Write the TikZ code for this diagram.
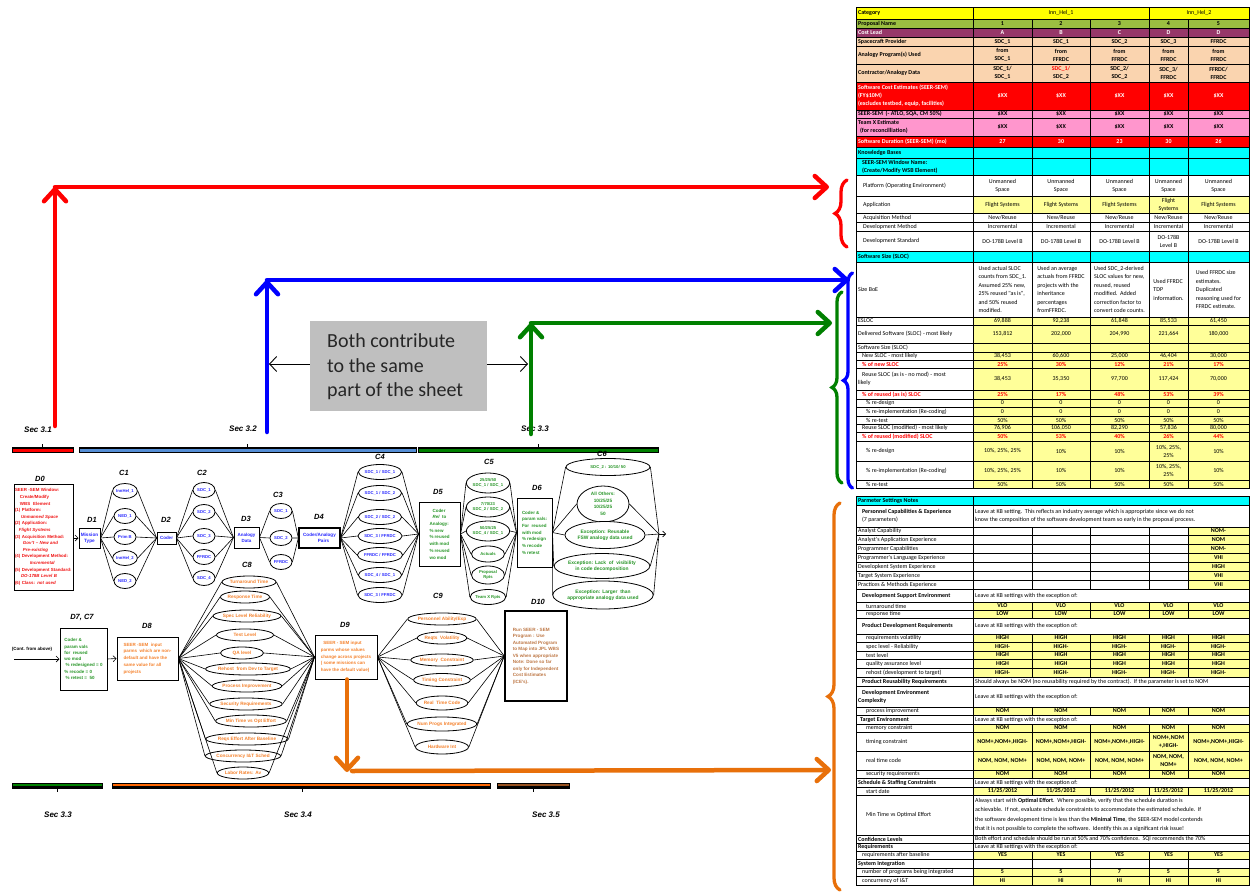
\documentclass[tikz,border=0pt]{standalone}
\usepackage{fontspec}
\setmainfont{Liberation Sans}
\newfontfamily\calib{Carlito}
\usetikzlibrary{shapes.geometric,arrows.meta,decorations.pathreplacing}

% sheet colours
\definecolor{cyyel}{RGB}{255,255,0}
\definecolor{cgreen}{RGB}{155,190,65}
\definecolor{cpurp}{RGB}{150,55,105}
\definecolor{cpeach}{RGB}{250,212,175}
\definecolor{cred}{RGB}{255,0,0}
\definecolor{cpink}{RGB}{255,150,205}
\definecolor{ccyan}{RGB}{0,255,255}
\definecolor{cly}{RGB}{255,255,153}
% flow chart text colours
\definecolor{fblue}{RGB}{40,40,255}
\definecolor{fgreen}{RGB}{40,150,40}
\definecolor{forange}{RGB}{245,130,45}
\definecolor{fbrown}{RGB}{190,120,70}
\definecolor{fred}{RGB}{240,20,20}
% connector and bar colours
\definecolor{arred}{RGB}{255,0,0}
\definecolor{arblue}{RGB}{0,0,255}
\definecolor{argreen}{RGB}{0,128,0}
\definecolor{arorange}{RGB}{232,112,10}
\definecolor{barblue}{RGB}{85,142,213}
\definecolor{barorange}{RGB}{255,102,0}
\definecolor{barbrown}{RGB}{150,80,30}
\definecolor{boxgray}{RGB}{191,191,191}

\tikzset{
  cell/.style={draw=black, line width=0.5pt},
  tabtxt/.style={font=\calib\fontsize{6}{8}\selectfont},
  tabbold/.style={font=\calib\bfseries\fontsize{6}{8}\selectfont},
  labtxt/.style={tabtxt, anchor=west, inner sep=0.4pt, align=left},
  valtxt/.style={tabtxt, inner sep=0pt, align=center},
  fl/.style={draw=black, line width=0.6pt},
  ellb/.style={ellipse, draw=black, line width=0.8pt, fill=white, inner sep=0pt,
               font=\fontsize{4.2}{5.4}\selectfont\bfseries, align=center},
  ellc/.style={ellb, font=\fontsize{4.7}{5.6}\selectfont\bfseries},
  elld/.style={ellb, font=\fontsize{4.9}{6.2}\selectfont\bfseries},
  dbox/.style={rectangle, draw=black, line width=1pt, fill=white, inner sep=1pt,
               font=\fontsize{4.5}{6.7}\selectfont\bfseries},
  dlab/.style={font=\fontsize{7.5}{9}\selectfont\bfseries\itshape, inner sep=0pt},
  seclab/.style={font=\fontsize{8}{9}\selectfont\bfseries\itshape, inner sep=0pt},
  bigarrow/.style={line width=4.5pt, line cap=round,
                   -{Straight Barb[length=12pt,width=22pt,round]}},
  bigbrace/.style={line width=3.3pt, line cap=round, decorate},
  smallarrow/.style={draw=black, line width=0.6pt, -{Straight Barb[length=3pt,width=6pt]}},
}

% label cell of a sheet row
\newcommand{\Lab}[5][]{%
  \pgfmathsetmacro\ymid{(#2+#3)/2}%
  \draw[cell, fill=#4] (856,#2) rectangle (973,#3);
  \node[labtxt,#1] at (857.5,\ymid) {#5};
}
% five value cells of a sheet row
\newcommand{\Vals}[9][]{%
  \pgfmathsetmacro\ymid{(#2+#3)/2}%
  \draw[cell, fill=#4] (973,#2) rectangle (1032,#3);
  \draw[cell, fill=#4] (1032,#2) rectangle (1090,#3);
  \draw[cell, fill=#4] (1090,#2) rectangle (1149,#3);
  \draw[cell, fill=#4] (1149,#2) rectangle (1188,#3);
  \draw[cell, fill=#4] (1188,#2) rectangle (1249,#3);
  \node[valtxt,#1] at (1002.5,\ymid) {#5};
  \node[valtxt,#1] at (1061,\ymid) {#6};
  \node[valtxt,#1] at (1119.5,\ymid) {#7};
  \node[valtxt,#1] at (1168.5,\ymid) {#8};
  \node[valtxt,#1] at (1218.5,\ymid) {#9};
}
% one merged cell across the five value columns
\newcommand{\Span}[5][]{%
  \pgfmathsetmacro\ymid{(#2+#3)/2}%
  \draw[cell, fill=#4] (973,#2) rectangle (1249,#3);
  \node[labtxt,#1] at (974.5,\ymid) {#5};
}
% highlighted last column
\newcommand{\Cfive}[3]{%
  \pgfmathsetmacro\ymid{(#1+#2)/2}%
  \draw[cell, fill=cly] (1188,#1) rectangle (1249,#2);
  \node[valtxt,tabbold] at (1218.5,\ymid) {#3};
}
% section bars above and below the flow chart
\newcommand{\BarTop}[4]{%
  \draw[black, line width=0.5pt, fill=#4] (#1,447.5) rectangle (#2,452.5);
  \draw[black, line width=1.8pt] (#1,448.2) -- (#2,448.2);
  \draw[black, line width=0.9pt] (#3,448) -- (#3,443.5);
}
\newcommand{\BarBot}[4]{%
  \draw[black, line width=0.5pt, fill=#4] (#1,783) rectangle (#2,788);
  \draw[black, line width=1.8pt] (#1,787.3) -- (#2,787.3);
  \draw[black, line width=0.9pt] (#3,787.5) -- (#3,792);
}

\begin{document}
\begin{tikzpicture}[x=1pt,y=-1pt]
\useasboundingbox (0,0) rectangle (1250,893);
\fill[white] (0,0) rectangle (1250,893);

%================ upper sheet ================
\Lab[tabbold]{7}{19}{cyyel}{Category}
\draw[cell, fill=cyyel] (973,7) rectangle (1149,19);
\draw[cell, fill=cyyel] (1149,7) rectangle (1249,19);
\node[valtxt] (ih1) at (1061,13) {Inn\_Hel\_1};
\node[valtxt] (ih2) at (1199,13) {Inn\_Hel\_2};
\Lab[tabbold]{19}{28}{cgreen}{Proposal Name}
\Vals[tabbold]{19}{28}{cgreen}{1}{2}{3}{4}{5}
\Lab[tabbold,text=white]{28}{37}{cpurp}{Cost Lead}
\Vals[tabbold,text=white]{28}{37}{cpurp}{A}{B}{C}{D}{D}
\Lab[tabbold]{37}{46}{cpeach}{Spacecraft Provider}
\Vals[tabbold]{37}{46}{cpeach}{SDC\_1}{SDC\_1}{SDC\_2}{SDC\_3}{FFRDC}
\Lab[tabbold]{46}{64}{cpeach}{Analogy Program(s) Used}
\Vals[tabbold]{46}{64}{cpeach}{from\\SDC\_1}{from\\FFRDC}{from\\FFRDC}{from\\FFRDC}{from\\FFRDC}
\Lab[tabbold]{64}{82}{cpeach}{Contractor/Analogy Data}
\Vals[tabbold]{64}{82}{cpeach}{SDC\_1/\\SDC\_1}{\textcolor{red}{SDC\_1/}\\SDC\_2}{SDC\_2/\\SDC\_2}{SDC\_3/\\FFRDC}{FFRDC/\\FFRDC}
\Lab[tabbold,text=white]{82}{110}{cred}{Software Cost Estimates (SEER-SEM)\\(FY\$10M)\\(excludes testbed, equip, facilities)}
\Vals[tabbold,text=white]{82}{110}{cred}{\$XX}{\$XX}{\$XX}{\$XX}{\$XX}
\Lab[tabbold]{110}{118}{cpink}{SEER-SEM~~(- ATLO, SQA, CM 50\%)}
\Vals[tabbold]{110}{118}{cpink}{\$XX}{\$XX}{\$XX}{\$XX}{\$XX}
\Lab[tabbold]{118}{136}{cpink}{Team X Estimate\\\hspace*{2pt}(for reconcilliation)}
\Vals[tabbold]{118}{136}{cpink}{\$XX}{\$XX}{\$XX}{\$XX}{\$XX}
\Lab[tabbold,text=white]{136}{147}{cred}{Software Duration (SEER-SEM) (mo)}
\Vals[tabbold,text=white]{136}{147}{cred}{27}{30}{23}{30}{26}
\Lab[tabbold]{147}{158}{ccyan}{Knowledge Bases}
\Vals{147}{158}{ccyan}{}{}{}{}{}
\Lab[tabbold]{158}{175}{ccyan}{\hspace*{4pt}SEER-SEM Window Name:\\\hspace*{4pt}(Create/Modify WSB Element)}
\Vals{158}{175}{ccyan}{}{}{}{}{}
\Lab{175}{196}{white}{\hspace*{5pt}Platform (Operating Environment)}
\Vals{175}{196}{white}{Unmanned\\Space}{Unmanned\\Space}{Unmanned\\Space}{Unmanned\\Space}{Unmanned\\Space}
\Lab{196}{213}{white}{\hspace*{5pt}Application}
\Vals{196}{213}{cly}{Flight Systems}{Flight Systems}{Flight Systems}{Flight\\Systems}{Flight Systems}
\Lab{213}{222}{white}{\hspace*{5pt}Acquisition Method}
\Vals{213}{222}{white}{New/Reuse}{New/Reuse}{New/Reuse}{New/Reuse}{New/Reuse}
\Lab{222}{231}{white}{\hspace*{5pt}Development Method}
\Vals{222}{231}{white}{Incremental}{Incremental}{Incremental}{Incremental}{Incremental}
\Lab{231}{251}{white}{\hspace*{5pt}Development Standard}
\Vals{231}{251}{white}{DO-178B Level B}{DO-178B Level B}{DO-178B Level B}{DO-178B\\Level B}{DO-178B Level B}
\Lab[tabbold]{251}{262}{ccyan}{Software Size (SLOC)}
\Vals{251}{262}{ccyan}{}{}{}{}{}
\Lab{262}{317}{white}{Size BoE}
\Vals[align=left,font=\calib\fontsize{6}{8.5}\selectfont]{262}{317}{white}%
  {Used actual SLOC\\counts from SDC\_1.\\Assumed 25\% new,\\25\% reused "as is",\\and 50\% reused\\modified.}%
  {Used an average\\actuals from FFRDC\\projects with the\\inheritance\\percentages\\fromFFRDC.}%
  {Used SDC\_2-derived\\SLOC values for new,\\reused, reused\\modified.~~Added\\correction factor to\\convert code counts.}%
  {Used FFRDC\\TDP\\information.}%
  {Used FFRDC size\\estimates.\\Duplicated\\reasoning used for\\FFRDC estimate.}
\Lab{317}{325}{white}{ESLOC}
\Vals{317}{325}{cly}{69,888}{92,238}{61,848}{85,533}{61,450}
\Lab{325}{343}{white}{Delivered Software (SLOC) - most likely}
\Vals{325}{343}{cly}{153,812}{202,000}{204,990}{221,664}{180,000}
\Lab{343}{352}{white}{Software Size (SLOC)}
\Vals{343}{352}{cly}{}{}{}{}{}
\Lab{352}{360}{white}{\hspace*{4pt}New SLOC - most likely}
\Vals{352}{360}{cly}{38,453}{60,600}{25,000}{46,404}{30,000}
\Lab[tabbold,text=red]{360}{368}{white}{\hspace*{4pt}\% of new SLOC}
\Vals[tabbold,text=red]{360}{368}{cly}{25\%}{30\%}{12\%}{21\%}{17\%}
\Lab{368}{390}{white}{\hspace*{4pt}Reuse SLOC (as is - no mod) - most\\likely}
\Vals{368}{390}{cly}{38,453}{35,350}{97,700}{117,424}{70,000}
\Lab[tabbold,text=red]{390}{399}{white}{\hspace*{4pt}\% of reused (as is) SLOC}
\Vals[tabbold,text=red]{390}{399}{cly}{25\%}{17\%}{48\%}{53\%}{39\%}
\Lab{399}{407}{white}{\hspace*{8pt}\% re-design}
\Vals{399}{407}{cly}{0}{0}{0}{0}{0}
\Lab{407}{416}{white}{\hspace*{8pt}\% re-implementation (Re-coding)}
\Vals{407}{416}{cly}{0}{0}{0}{0}{0}
\Lab{416}{424}{white}{\hspace*{8pt}\% re-test}
\Vals{416}{424}{cly}{50\%}{50\%}{50\%}{50\%}{50\%}
\Lab{424}{432}{white}{\hspace*{4pt}Reuse SLOC (modified) - most likely}
\Vals{424}{432}{cly}{76,906}{106,050}{82,290}{57,836}{80,000}
\Lab[tabbold,text=red]{432}{441}{white}{\hspace*{4pt}\% of reused (modified) SLOC}
\Vals[tabbold,text=red]{432}{441}{cly}{50\%}{53\%}{40\%}{26\%}{44\%}
\Lab{441}{461}{white}{\hspace*{8pt}\% re-design}
\Vals{441}{461}{cly}{10\%, 25\%, 25\%}{10\%}{10\%}{10\%, 25\%,\\25\%}{10\%}
\Lab{461}{480}{white}{\hspace*{8pt}\% re-implementation (Re-coding)}
\Vals{461}{480}{cly}{10\%, 25\%, 25\%}{10\%}{10\%}{10\%, 25\%,\\25\%}{10\%}
\Lab{480}{488}{white}{\hspace*{8pt}\% re-test}
\Vals{480}{488}{cly}{50\%}{50\%}{50\%}{50\%}{50\%}

%================ lower sheet ================
\Lab[tabbold]{496}{505}{ccyan}{Parmeter Settings Notes}
\Span{496}{505}{ccyan}{}
\Lab{505}{527}{white}{\hspace*{4pt}\textbf{Personnel Capabilities \& Experience}\\\hspace*{4pt}(7 parameters)}
\Span[font=\calib\fontsize{6}{8.4}\selectfont]{505}{527}{white}{Leave at KB setting.~~This reflects an industry average which is appropriate since we do not\\know the composition of the software development team so early in the proposal process.}
\Lab{527}{535}{white}{Analyst Capability}
\Vals{527}{535}{white}{}{}{}{}{}
\Cfive{527}{535}{NOM-}
\Lab{535}{544}{white}{Analyst's Application Experience}
\Vals{535}{544}{white}{}{}{}{}{}
\Cfive{535}{544}{NOM}
\Lab{544}{553}{white}{Programmer Capabilities}
\Vals{544}{553}{white}{}{}{}{}{}
\Cfive{544}{553}{NOM-}
\Lab{553}{562}{white}{Programmer's Language Experience}
\Vals{553}{562}{white}{}{}{}{}{}
\Cfive{553}{562}{VHI}
\Lab{562}{571}{white}{Developkent System Experience}
\Vals{562}{571}{white}{}{}{}{}{}
\Cfive{562}{571}{HIGH}
\Lab{571}{580}{white}{Target System Experience}
\Vals{571}{580}{white}{}{}{}{}{}
\Cfive{571}{580}{VHI}
\Lab{580}{589}{white}{Practices \& Methods Experience}
\Vals{580}{589}{white}{}{}{}{}{}
\Cfive{580}{589}{VHI}
\Lab[tabbold]{589}{602}{white}{\hspace*{4pt}Development Support Environment}
\Span{589}{602}{white}{Leave at KB settings with the exception of:}
\Lab{602}{610}{white}{\hspace*{8pt}turnaround time}
\Vals[tabbold]{602}{610}{cly}{VLO}{VLO}{VLO}{VLO}{VLO}
\Lab{610}{618}{white}{\hspace*{8pt}response time}
\Vals[tabbold]{610}{618}{cly}{LOW}{LOW}{LOW}{LOW}{LOW}
\Lab[tabbold]{618}{634}{white}{\hspace*{4pt}Product Development Requirements}
\Span{618}{634}{white}{Leave at KB settings with the exception of:}
\Lab{634}{642}{white}{\hspace*{8pt}requirements volatility}
\Vals[tabbold]{634}{642}{cly}{HIGH}{HIGH}{HIGH}{HIGH}{HIGH}
\Lab{642}{651}{white}{\hspace*{8pt}spec level - Reliability}
\Vals[tabbold]{642}{651}{cly}{HIGH-}{HIGH-}{HIGH-}{HIGH-}{HIGH-}
\Lab{651}{659}{white}{\hspace*{8pt}test level}
\Vals[tabbold]{651}{659}{cly}{HIGH}{HIGH}{HIGH}{HIGH}{HIGH}
\Lab{659}{668}{white}{\hspace*{8pt}quality assurance level}
\Vals[tabbold]{659}{668}{cly}{HIGH}{HIGH}{HIGH}{HIGH}{HIGH}
\Lab{668}{677}{white}{\hspace*{8pt}rehost (development to target)}
\Vals[tabbold]{668}{677}{cly}{HIGH-}{HIGH-}{HIGH-}{HIGH-}{HIGH-}
\Lab[tabbold]{677}{686}{white}{\hspace*{4pt}Product Reusability Requirements}
\Span{677}{686}{white}{Should always be NOM (no reusability required by the contract).~~If the parameter is set to NOM}
\Lab[tabbold]{686}{707}{white}{\hspace*{4pt}Development Environment\\Complexity}
\Span{686}{707}{white}{Leave at KB settings with the exception of:}
\Lab{707}{715}{white}{\hspace*{8pt}process improvement}
\Vals[tabbold]{707}{715}{cly}{NOM}{NOM}{NOM}{NOM}{NOM}
\Lab[tabbold]{715}{724}{white}{\hspace*{2pt}Target Environment}
\Span{715}{724}{white}{Leave at KB settings with the exception of:}
\Lab{724}{732}{white}{\hspace*{8pt}memory constraint}
\Vals[tabbold]{724}{732}{cly}{NOM}{NOM}{NOM}{NOM}{NOM}
\Lab{732}{751}{white}{\hspace*{8pt}timing constraint}
\Vals[tabbold]{732}{751}{cly}{NOM+,NOM+,HIGH-}{NOM+,NOM+,HIGH-}{NOM+,NOM+,HIGH-}{NOM+,NOM\\+,HIGH-}{NOM+,NOM+,HIGH-}
\Lab{751}{770}{white}{\hspace*{8pt}real time code}
\Vals[tabbold]{751}{770}{cly}{NOM, NOM, NOM+}{NOM, NOM, NOM+}{NOM, NOM, NOM+}{NOM, NOM,\\NOM+}{NOM, NOM, NOM+}
\Lab{770}{778}{white}{\hspace*{8pt}security requirements}
\Vals[tabbold]{770}{778}{cly}{NOM}{NOM}{NOM}{NOM}{NOM}
\Lab[tabbold]{778}{787}{white}{Schedule \& Staffing Constraints}
\Span{778}{787}{white}{Leave at KB settings with the exception of:}
\Lab{787}{795}{white}{\hspace*{8pt}start date}
\Vals[tabbold]{787}{795}{cly}{11/25/2012}{11/25/2012}{11/25/2012}{11/25/2012}{11/25/2012}
\Lab{795}{835}{white}{\hspace*{8pt}Min Time vs Optimal Effort}
\Span[font=\calib\fontsize{6}{9.3}\selectfont]{795}{835}{white}{Always start with \textbf{Optimal Effort}.~~Where possible, verify that the schedule duration is\\achievable.~~If not, evaluate schedule constraints to accommodate the estimated schedule.~~If\\the software development time is less than the \textbf{Minimal Time}, the SEER-SEM model contends\\that it is not possible to complete the software.~~Identify this as a significant risk issue!}
\Lab[tabbold]{835}{843}{white}{Confidence Levels}
\Span{835}{843}{white}{Both effort and schedule should be run at 50\% and 70\% confidence.~~SQI recommends the 70\%}
\Lab[tabbold]{843}{851}{white}{Requirements}
\Span{843}{851}{white}{Leave at KB settings with the exception of:}
\Lab{851}{859}{white}{\hspace*{4pt}requirements after baseline}
\Vals[tabbold]{851}{859}{cly}{YES}{YES}{YES}{YES}{YES}
\Lab[tabbold]{859}{868}{white}{System Integration}
\Vals{859}{868}{white}{}{}{}{}{}
\Lab{868}{876}{white}{\hspace*{4pt}number of programs being integrated}
\Vals[tabbold]{868}{876}{cly}{5}{5}{7}{5}{5}
\Lab{876}{885}{white}{\hspace*{4pt}concurrency of I\&T}
\Vals[tabbold]{876}{885}{cly}{Hi}{Hi}{Hi}{Hi}{Hi}

%================ section bars and labels ================
\BarTop{12}{73}{42}{arred}
\BarTop{79}{416}{247}{barblue}
\BarTop{418}{658}{538}{argreen}
\BarBot{12}{102}{57}{argreen}
\BarBot{112}{490}{302}{barorange}
\BarBot{497}{569}{533}{barbrown}
\node[seclab] (s31) at (38,430) {Sec 3.1};
\node[seclab] (s32) at (243,429) {Sec 3.2};
\node[seclab] (s33) at (535,429) {Sec 3.3};
\node[seclab] (s33b) at (58,815) {Sec 3.3};
\node[seclab] (s34) at (298,815) {Sec 3.4};
\node[seclab] (s35) at (546,815) {Sec 3.5};

%================ flow chart: upper chain ================
\node[dlab] (l0) at (40,479) {D0};
\node[dlab] (l1) at (92,520) {D1};
\node[dlab] (lc1) at (124,473) {C1};
\node[dlab] (l2) at (166,520) {D2};
\node[dlab] (lc2) at (202,473) {C2};
\node[dlab] (l3) at (246,519) {D3};
\node[dlab] (lc3) at (278,495) {C3};
\node[dlab] (l4) at (319,517) {D4};
\node[dlab] (lc4) at (380,457) {C4};
\node[dlab] (l5) at (438,492) {D5};
\node[dlab] (lc5) at (489,462) {C5};
\node[dlab] (l6) at (537,488) {D6};
\node[dlab] (lc6) at (602,454) {C6};

\node[dbox, text=fred, minimum width=59, minimum height=106, text width=57, inner sep=0.8pt, align=left, font=\fontsize{4.4}{6.6}\selectfont\bfseries] (d0) at (43.5,537)
 {SEER -SEM Window:\\\hspace*{5pt}Create/Modify\\\hspace*{5pt}WBS~ Element\\(1) Platform:\\\hspace*{6pt}\textit{Unmanned Space}\\(2) Application:\\\hspace*{4pt}\textit{Flight Systems}\\(3) Acquisition Method:\\\hspace*{8pt}\textit{Gov't – New and}\\\hspace*{8pt}\textit{Pre-existing}\\(4) Development Method:\\\hspace*{15pt}\textit{Incremental}\\(5) Development Standard:\\\hspace*{6pt}\textit{DO-178B Level B}\\(6) Class: \textit{not used}};
\node[dbox, text=fblue, minimum width=21, minimum height=20, inner sep=0.5pt, align=center, font=\fontsize{4.7}{6}\selectfont\bfseries] (d1) at (89.5,538) {Mission\\Type};
\node[dbox, text=fblue, minimum width=19, minimum height=12, inner sep=0.5pt, line width=0.8pt, font=\fontsize{4.5}{6}\selectfont\bfseries] (d2) at (166.5,538) {Coder};
\node[dbox, text=fblue, minimum width=25, minimum height=21, align=center, font=\fontsize{4.5}{6}\selectfont\bfseries] (d3) at (246.5,537.5) {Analogy\\Data};
\node[dbox, text=fblue, minimum width=41, minimum height=20, align=center, line width=1.3pt, font=\fontsize{4.6}{6}\selectfont\bfseries] (d4) at (319.5,538) {Coder/Analogy\\\hspace*{8pt}Pairs};
\node[dbox, text=fgreen, minimum width=41, minimum height=64, align=left] (d5) at (439.5,534)
 {\hspace*{3pt}Coder\\\hspace*{3pt}\textit{Rel}~ to\\Analogy:\\\% new\\\% reused\\with mod\\\% reused\\wo mod};
\node[dbox, text=fgreen, minimum width=35, minimum height=69, align=left] (d6) at (534.5,532.5)
 {Coder \&\\param vals:\\For~ reused\\with mod\\\% redesign\\\% recode\\\% retest};

% C1 .. C3
\node[ellb, text=fblue, minimum width=22, minimum height=15] (c1a) at (125,491) {InnHel\_1};
\node[ellb, text=fblue, minimum width=22, minimum height=15] (c1b) at (125,516) {NED\_1};
\node[ellb, text=fblue, minimum width=22, minimum height=15] (c1c) at (125,537) {Prim B};
\node[ellb, text=fblue, minimum width=22, minimum height=15] (c1d) at (125,558) {InnHel\_2};
\node[ellb, text=fblue, minimum width=22, minimum height=15] (c1e) at (125,581) {NED\_2};
\node[ellb, text=fblue, minimum width=22, minimum height=15] (c2a) at (204,490) {SDC\_1};
\node[ellb, text=fblue, minimum width=22, minimum height=15] (c2b) at (204,512) {SDC\_2};
\node[ellb, text=fblue, minimum width=22, minimum height=15] (c2c) at (204,536) {SDC\_3};
\node[ellb, text=fblue, minimum width=22, minimum height=15] (c2d) at (204,557) {FFRDC};
\node[ellb, text=fblue, minimum width=22, minimum height=15] (c2e) at (204,578) {SDC\_4};
\node[ellb, text=fblue, minimum width=22, minimum height=15] (c3a) at (281,511) {SDC\_1};
\node[ellb, text=fblue, minimum width=22, minimum height=15] (c3b) at (281,538) {SDC\_2};
\node[ellb, text=fblue, minimum width=22, minimum height=15] (c3c) at (281,562) {FFRDC};
% C4
\node[ellb, text=fblue, minimum width=31, minimum height=15] (c4a) at (380,472) {SDC\_1 / SDC\_1};
\node[ellb, text=fblue, minimum width=31, minimum height=15] (c4b) at (380,493) {SDC\_1 / SDC\_2};
\node[ellb, text=fblue, minimum width=31, minimum height=15] (c4c) at (380,517) {SDC\_2 / SDC\_2};
\node[ellb, text=fblue, minimum width=31, minimum height=15] (c4d) at (380,536) {SDC\_3 / FFRDC};
\node[ellb, text=fblue, minimum width=31, minimum height=15] (c4e) at (380,555) {FFRDC / FFRDC};
\node[ellb, text=fblue, minimum width=31, minimum height=15] (c4f) at (380,575) {SDC\_4 / SDC\_1};
\node[ellb, text=fblue, minimum width=31, minimum height=15] (c4g) at (380,595) {SDC\_3 / FFRDC};
% C5
\node[ellb, text=fgreen, minimum width=36, minimum height=20] (c5a) at (488,483) {25/25/50\\SDC\_1 / SDC\_1};
\node[ellb, text=fgreen, minimum width=36, minimum height=20] (c5b) at (488,507) {7/70/23\\SDC\_2 / SDC\_2};
\node[ellb, text=fgreen, minimum width=36, minimum height=20] (c5c) at (488,531) {50/25/25\\SDC\_4 / SDC\_1};
\node[ellb, text=fgreen, minimum width=33, minimum height=16] (c5d) at (488,554) {Actuals};
\node[ellb, text=fgreen, minimum width=33, minimum height=18] (c5e) at (488,575) {Proposal\\Rpts};
\node[ellb, text=fgreen, minimum width=33, minimum height=15] (c5f) at (488,597) {Team X Rpts};
% C6
\node[ellb, text=fgreen, minimum width=84, minimum height=17] (c6a) at (608,467) {SDC\_2 : 10/10/ 50};
\node[elld, text=fgreen, minimum width=52, minimum height=36, font=\fontsize{4.7}{6.5}\selectfont\bfseries] (c6b) at (603,504) {All Others:\\10/25/25\\10/25/25\\50};
\node[elld, text=fgreen, minimum width=80, minimum height=27] (c6c) at (605,535) {Exception: Reusable\\FSW analogy data used};
\node[elld, text=fgreen, minimum width=77, minimum height=25] (c6d) at (602,566) {Exception: Lack~ of~ visibility\\in code decomposition};
\node[elld, text=fgreen, minimum width=92, minimum height=28] (c6e) at (603,595) {Exception: Larger~ than\\appropriate analogy data used};
\coordinate (c6j) at (659,534);
\coordinate (c6o) at (666,534);

% fans between the decision boxes and their choices
\draw[smallarrow] (d0.east |- d1.west) -- (d1.west);
\foreach \n in {c1a,c1b,c1c,c1d,c1e}{\draw[fl] (d1.east) -- (\n.west) (\n.east) -- (d2.west);}
\foreach \n in {c2a,c2b,c2c,c2d,c2e}{\draw[fl] (d2.east) -- (\n.west) (\n.east) -- (d3.west);}
\foreach \n in {c3a,c3b,c3c}{\draw[fl] (d3.east) -- (\n.west) (\n.east) -- (d4.west);}
\foreach \n in {c4a,c4b,c4c,c4d,c4e,c4f,c4g}{\draw[fl] (d4.east) -- (\n.west) (\n.east) -- (d5.west);}
\foreach \n in {c5a,c5b,c5c,c5d,c5e,c5f}{\draw[fl] (d5.east) -- (\n.west) (\n.east) -- (d6.west);}
\foreach \n in {c6a,c6b,c6c,c6d,c6e}{\draw[fl] (d6.east) -- (\n.west) (\n.east) -- (c6j);}
\draw[smallarrow] (c6j) -- (c6o);

%================ flow chart: lower chain ================
\node[dlab] (l7) at (82,617) {D7, C7};
\node[dlab] (l8) at (147,626) {D8};
\node[dlab] (lc8) at (247,565) {C8};
\node[dlab] (l9) at (345,625) {D9};
\node[dlab] (lc9) at (438,596) {C9};
\node[dlab] (l10) at (538,602) {D10};

\node[font=\fontsize{4.5}{5}\selectfont\bfseries, inner sep=0pt] (cont) at (32,649) {(Cont. from above)};
\coordinate (contin) at (14,659);
\node[dbox, text=fgreen, minimum width=47, minimum height=62, align=left, font=\fontsize{4.5}{6.3}\selectfont\bfseries] (d7) at (83.5,659)
 {Coder \&\\param vals\\for~ reused\\wo mod\\~\% redesigned = 0\\\% recode = 0\\~\% retest =~ 50};
\node[dbox, text=forange, minimum width=61, minimum height=43, align=left] (d8) at (147.5,658.5)
 {SEER -SEM~ input\\parms~ which are non-\\default and have the\\same value for all\\projects};
\node[dbox, text=forange, minimum width=62, minimum height=44, align=left] (d9) at (346,657)
 {~~SEER - SEM input\\parms whose values\\change across projects\\( some missions can\\have the default value)};
\node[dbox, text=fbrown, minimum width=62, minimum height=90, align=left, line width=1.5pt, font=\fontsize{4.6}{6.5}\selectfont\bfseries] (d10) at (536,656)
 {Run SEER - SEM\\Program : Use\\Automated Program\\to Map into JPL WBS\\V5 when appropriate\\Note: Done so far\\only for Independent\\Cost Estimates\\(ICE's).};

% C8
\node[ellc, text=forange, minimum width=52, minimum height=12] (c8a) at (249,582) {Turnaround Time};
\node[ellc, text=forange, minimum width=44, minimum height=12] (c8b) at (245,597) {Response Time};
\node[ellc, text=forange, minimum width=53, minimum height=12] (c8c) at (247,616) {Spec Level Reliability};
\node[ellc, text=forange, minimum width=57, minimum height=12] (c8d) at (245,635) {Test Level};
\node[ellc, text=forange, minimum width=43, minimum height=12] (c8e) at (242,653) {QA level};
\node[ellc, text=forange, minimum width=80, minimum height=12] (c8f) at (248,669) {Rehost~ from Dev to Target};
\node[ellc, text=forange, minimum width=58, minimum height=12] (c8g) at (247,686) {Process Improvement};
\node[ellc, text=forange, minimum width=52, minimum height=12] (c8h) at (246,704) {Security Requirements};
\node[ellc, text=forange, minimum width=52, minimum height=12] (c8i) at (251,721) {Min Time vs Opt Effort};
\node[ellc, text=forange, minimum width=60, minimum height=12] (c8j) at (247,739) {Reqs Effort After Baseline};
\node[ellc, text=forange, minimum width=57, minimum height=12] (c8k) at (243,756) {Concurrency I\&T Sched};
\node[ellc, text=forange, minimum width=50, minimum height=12] (c8l) at (243,773) {Labor Rates: Av};
% C9
\node[ellc, text=forange, minimum width=50, minimum height=12] (c9a) at (442,619) {Personnel Ability/Exp};
\node[ellc, text=forange, minimum width=49, minimum height=12] (c9b) at (442,638) {Reqts~ Volatility};
\node[ellc, text=forange, minimum width=62, minimum height=12] (c9c) at (442,660) {Memory~ Constraint};
\node[ellc, text=forange, minimum width=50, minimum height=13] (c9d) at (442,680) {Timing Constraint};
\node[ellc, text=forange, minimum width=51, minimum height=14] (c9e) at (442,703) {Real~ Time Code};
\node[ellc, text=forange, minimum width=59, minimum height=14] (c9f) at (442,724) {Num Progs Integrated};
\node[ellc, text=forange, minimum width=53, minimum height=14] (c9g) at (442,747) {Hardware Int};

\draw[smallarrow] (contin) -- (d7.west);
\draw[smallarrow] (d7.east) -- (d8.west);
\foreach \n in {c8a,c8b,c8c,c8d,c8e,c8f,c8g,c8h,c8i,c8j,c8k,c8l}{\draw[fl] (d8.east) -- (\n.west) (\n.east) -- (d9.west);}
\foreach \n in {c9a,c9b,c9c,c9d,c9e,c9f,c9g}{\draw[fl] (d9.east) -- (\n.west) (\n.east) -- (d10.west);}

%================ note box ================
\node[fill=boxgray, minimum width=177, minimum height=90, inner sep=0pt] (gbox) at (398.5,365.5) {};
\node[font=\calib\fontsize{20}{24.5}\selectfont, text=black!85, align=left, anchor=west, inner sep=0pt] (gtext) at (327,367)
 {Both contribute\\to the same\\part of the sheet};

%================ coloured connectors to the sheet ================
\coordinate (rA) at (55,426);
\coordinate (rB) at (55,187);
\coordinate (rC) at (829,187);
\draw[arred, bigarrow] (rA) -- (rB);
\draw[arred, bigarrow] (rB) -- (rC);
\draw[arred, bigbrace, decoration={brace, amplitude=12pt}] (847,247) -- (847,180);

\coordinate (bA) at (267,432);
\coordinate (bB) at (267,280);
\coordinate (bC) at (849,280);
\draw[arblue, bigarrow] (bA) -- (bB);
\draw[arblue, bigarrow] (bB) -- (bC);
\draw[arblue, bigbrace, decoration={brace, amplitude=9pt}] (852.5,488) -- (852.5,273);

\coordinate (gA) at (531,434);
\coordinate (gB) at (531,323);
\coordinate (gC) at (832,323);
\draw[argreen, bigarrow] (gA) -- (gB);
\draw[argreen, bigarrow] (gB) -- (gC);
\draw[argreen, bigbrace, decoration={brace, amplitude=10pt}] (842,483) -- (842,292);

\coordinate (oB) at (347,772);
\coordinate (oC) at (352,771);
\coordinate (oD) at (831,770);
\draw[arorange, bigarrow] (d9.south -| oB) -- (oB);
\draw[arorange, bigarrow] (oC) -- (oD);
\draw[arorange, bigbrace, decoration={brace, amplitude=12pt}] (840,890) -- (840,503);

% thin pointers from the note box
\coordinate (pL) at (269,364);
\coordinate (pR) at (528,364);
\draw[black, line width=0.9pt, -{Straight Barb[length=7pt,width=15pt]}] (gbox.west |- pL) -- (pL);
\draw[black, line width=0.9pt, -{Straight Barb[length=7pt,width=15pt]}] (gbox.east |- pR) -- (pR);
\end{tikzpicture}
\end{document}
